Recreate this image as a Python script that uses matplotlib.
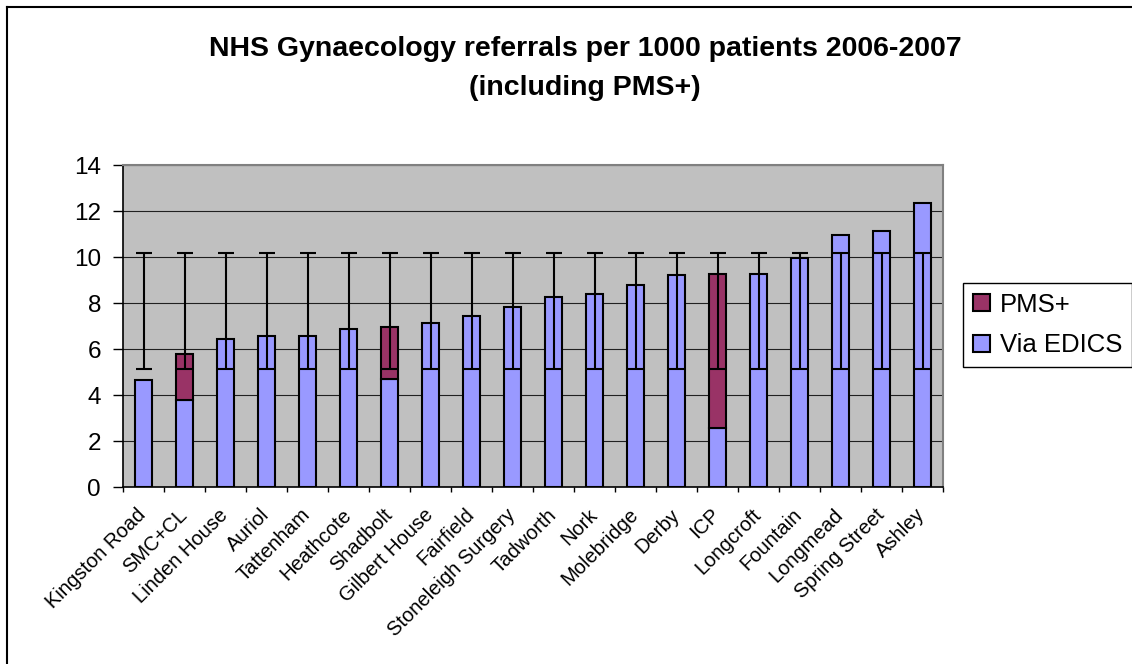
import numpy as np
import matplotlib
matplotlib.use("Agg")
import matplotlib.pyplot as plt
from matplotlib.lines import Line2D
from matplotlib.patches import Patch

plt.rcParams['font.family'] = ['Liberation Sans', 'DejaVu Sans']

# Data
practices = ['Kingston Road', 'SMC+CL', 'Linden House', 'Auriol', 'Tattenham',
             'Heathcote', 'Shadbolt', 'Gilbert House', 'Fairfield',
             'Stoneleigh Surgery', 'Tadworth', 'Nork', 'Molebridge', 'Derby',
             'ICP', 'Longcroft', 'Fountain', 'Longmead', 'Spring Street', 'Ashley']
via_edics = [4.65, 3.78, 6.42, 6.58, 6.58, 6.88, 4.71, 7.13, 7.45, 7.84,
             8.25, 8.39, 8.80, 9.20, 2.58, 9.27, 9.94, 10.96, 11.13, 12.33]
pms_plus = [0, 2.00, 0, 0, 0, 0, 2.26, 0, 0, 0,
            0, 0, 0, 0, 6.69, 0, 0, 0, 0, 0]
range_mid = 7.645
range_half = 2.515

edics_col = '#9999FF'
pms_col = '#993366'

fig = plt.figure(figsize=(11.32, 6.64), dpi=100)
ax = fig.add_axes([123/1132, 1 - 487/664, 820/1132, 322/664])
ax.set_facecolor('#C0C0C0')

x = np.arange(len(practices))
w = 0.41
ax.bar(x, via_edics, w, color=edics_col, edgecolor='black', linewidth=1.5, zorder=2)
b2 = ax.bar(x, pms_plus, w, bottom=via_edics, color=pms_col, edgecolor='black',
            linewidth=1.5, zorder=2)
# hide zero-height PMS+ bars
for r, v in zip(b2, pms_plus):
    if v == 0:
        r.set_visible(False)

ax.errorbar(x, [range_mid] * len(x), yerr=range_half, fmt='none', ecolor='black',
            elinewidth=1.5, capsize=5.5, capthick=1.5, zorder=3)

ax.set_xlim(-0.5, len(practices) - 0.5)
ax.set_ylim(0, 14)
ax.set_yticks(np.arange(0, 15, 2))
ax.yaxis.grid(True, color='#202020', linewidth=0.8, zorder=1)
ax.set_axisbelow(True)
ax.tick_params(axis='y', labelsize=17.5, length=7.2, width=1, direction='out', pad=8.6)

ax.set_xticks(np.arange(-0.5, len(practices), 1))
ax.set_xticklabels([])
ax.tick_params(axis='x', length=3.6, width=1, direction='out')
for i, name in enumerate(practices):
    ax.annotate(name, xy=(i, 0), xycoords='data', xytext=(-5, -13),
                textcoords='offset points', rotation=45, ha='right', va='top',
                rotation_mode='anchor', fontsize=14.5, annotation_clip=False)

for s in ['top', 'right']:
    ax.spines[s].set_color('#808080')
    ax.spines[s].set_linewidth(1.5)
for s in ['left', 'bottom']:
    ax.spines[s].set_color('black')
    ax.spines[s].set_linewidth(1.2)

handles = [Patch(facecolor=pms_col, edgecolor='black', linewidth=1.5),
           Patch(facecolor=edics_col, edgecolor='black', linewidth=1.5)]
leg = fig.legend(handles=handles, labels=['PMS+', 'Via EDICS'],
                 loc='upper left', bbox_to_anchor=(963/1132, 1 - 283/664),
                 fontsize=18.5, frameon=True, fancybox=False, edgecolor='black',
                 framealpha=1, handlelength=0.66, handleheight=0.66,
                 handletextpad=0.4, labelspacing=0.65, borderpad=0.38,
                 borderaxespad=0)
leg.get_frame().set_linewidth(1.0)

fig.text(585/1132, 1 - 56/664, 'NHS Gynaecology referrals per 1000 patients 2006-2007',
         ha='center', va='baseline', fontsize=20.5, fontweight='bold')
fig.text(585/1132, 1 - 95/664, '(including PMS+)',
         ha='center', va='baseline', fontsize=20.5, fontweight='bold')

# chart area border (only top and left edges fall inside the image)
fig.add_artist(Line2D([7/1132, 7/1132], [0, 1 - 7/664], color='black', linewidth=1.5,
                      transform=fig.transFigure))
fig.add_artist(Line2D([7/1132, 1], [1 - 7/664, 1 - 7/664], color='black', linewidth=1.5,
                      transform=fig.transFigure))

fig.savefig('out.png', dpi=100)
